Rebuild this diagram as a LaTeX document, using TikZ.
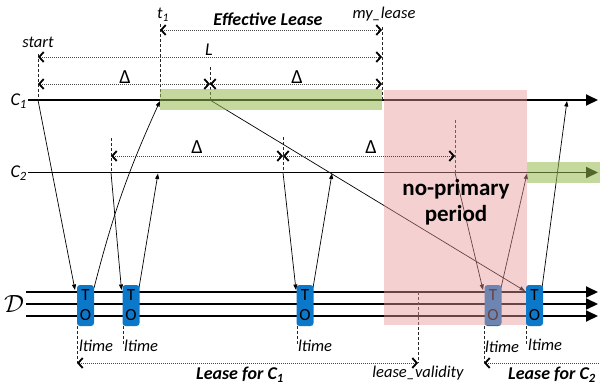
\documentclass[tikz,border=0pt]{standalone}
\usepackage{fontspec}
\setmainfont{Carlito}
\usetikzlibrary{arrows.meta}
\definecolor{toblue}{RGB}{12,120,202}
\definecolor{pinkfill}{RGB}{230,150,150}
\definecolor{greenfill}{RGB}{150,185,80}
\definecolor{dotgray}{RGB}{70,70,70}
\begin{document}
\begin{tikzpicture}[x=1pt,y=-1pt,
  dimtip/.tip={Straight Barb[length=4.5pt,width=10pt,line width=1.8pt,color=black]},
  tline/.style={line width=1.9pt,-{Triangle[length=12pt,width=11pt]}},
  msg/.style={line width=0.7pt,-{Triangle[length=5.5pt,width=4pt]}},
  dimarr/.style={draw=dotgray,line width=0.8pt,dash pattern=on 0.8pt off 1.2pt,dimtip-dimtip},
  dimleft/.style={draw=dotgray,line width=0.8pt,dash pattern=on 0.8pt off 1.2pt,dimtip-},
  guide/.style={draw=black!85,line width=0.8pt,dash pattern=on 3pt off 2pt},
  tobox/.style={draw=none,fill=toblue,rounded corners=3pt,minimum width=17pt,minimum height=41pt,inner sep=0pt,align=center,font=\fontsize{17}{20}\selectfont},
  lab/.style={inner sep=0pt,font=\itshape\fontsize{16.5}{16.5}\selectfont},
  blab/.style={inner sep=0pt,font=\bfseries\itshape\fontsize{18}{18}\selectfont},
  dlab/.style={inner sep=0pt,font=\fontsize{20}{20}\selectfont},
]
\useasboundingbox (0,0) rectangle (600,388);

% timelines
\coordinate (c1s) at (28,100);  \coordinate (c1e) at (598,100);
\coordinate (c2s) at (28,172.5); \coordinate (c2e) at (598,172.5);
\coordinate (d1s) at (26,292); \coordinate (d1e) at (598,292);
\coordinate (d2s) at (26,304); \coordinate (d2e) at (598,304);
\coordinate (d3s) at (26,316); \coordinate (d3e) at (598,316);
\draw[tline] (c1s) -- (c1e);
\draw[tline] (c2s) -- (c2e);
\draw[tline] (d1s) -- (d1e);
\draw[tline] (d2s) -- (d2e);
\draw[tline] (d3s) -- (d3e);

% guide coordinates
\coordinate (gsT) at (38,54);   \coordinate (gsB) at (38,100);
\coordinate (gtT) at (160,24);  \coordinate (gtB) at (160,100);
\coordinate (gmT) at (210,67);  \coordinate (gmB) at (210,100);
\coordinate (glT) at (382,27);  \coordinate (glB) at (382,100);
\coordinate (gaT) at (111,138); \coordinate (gaB) at (111,172.5);
\coordinate (gbT) at (283,137); \coordinate (gbB) at (283,172.5);
\coordinate (gcT) at (455,120); \coordinate (gcB) at (455,172.5);
\coordinate (u1T) at (77,326);  \coordinate (u1B) at (77,363);
\coordinate (u2T) at (123,326); \coordinate (u2B) at (123,345);
\coordinate (u3T) at (297,326); \coordinate (u3B) at (297,345);
\coordinate (uvT) at (418,292); \coordinate (uvB) at (418,363);
\coordinate (u4T) at (484,326); \coordinate (u4B) at (484,363);
\coordinate (u5T) at (526,326); \coordinate (u5B) at (526,345);
\foreach \g in {gs,gt,gm,gl,ga,gb,gc,u1,u2,u3,uv,u4,u5}
  \draw[guide] (\g T) -- (\g B);

% messages
\coordinate (m1a) at (38,100);  \coordinate (m1b) at (75,290);
\coordinate (m2a) at (94,288);  \coordinate (m2b) at (160,101);
\coordinate (m3a) at (111,172.5); \coordinate (m3b) at (121.5,290);
\coordinate (m4a) at (139,288); \coordinate (m4b) at (158,173.5);
\coordinate (m5a) at (210,100); \coordinate (m5b) at (525,291);
\coordinate (m6a) at (283,172.5); \coordinate (m6b) at (296,290);
\coordinate (m7a) at (313,288); \coordinate (m7b) at (332,173.5);
\coordinate (m8a) at (455,172.5); \coordinate (m8b) at (483,290);
\coordinate (m9a) at (501,288); \coordinate (m9b) at (527,173.5);
\coordinate (m10a) at (542,288); \coordinate (m10b) at (567,101);
\draw[msg] (m1a) -- (m1b);
\draw[msg] (m2a) to[bend left=5] (m2b);
\draw[msg] (m3a) -- (m3b);
\draw[msg] (m4a) -- (m4b);
\draw[msg] (m5a) -- (m5b);
\draw[msg] (m6a) -- (m6b);
\draw[msg] (m7a) -- (m7b);
\draw[msg] (m8a) -- (m8b);
\draw[msg] (m9a) -- (m9b);
\draw[msg] (m10a) -- (m10b);

% TO boxes
\node[tobox] (to1) at (85.5,305.5) {T\\O};
\node[tobox] (to2) at (131,305.5) {T\\O};
\node[tobox] (to3) at (305,305.5) {T\\O};
\node[tobox] (to4) at (493,305.5) {T\\O};

% green lease bars
\fill[greenfill,opacity=0.55] (160,89) rectangle (382,110);
\fill[greenfill,opacity=0.55] (527,162) rectangle (600,183);

% no-primary period
\fill[pinkfill,opacity=0.45] (384,90) rectangle (527,325);
\node[tobox] (to5) at (534.5,305.5) {T\\O};
\node[inner sep=0pt,font=\bfseries\fontsize{23}{26}\selectfont,align=center] (lnp) at (456,202) {no-primary\\period};

% dimension arrows
\coordinate (e1) at (160,30);  \coordinate (e2) at (382,30);
\coordinate (l1) at (38,57);   \coordinate (l2) at (382,57);
\coordinate (a1) at (38,84);   \coordinate (a2) at (210,84); \coordinate (a3) at (382,84);
\coordinate (b1) at (111,156); \coordinate (b2) at (283,156); \coordinate (b3) at (455,156);
\coordinate (q1) at (77,363);  \coordinate (q2) at (418,363);
\coordinate (r1) at (484,363); \coordinate (r2) at (602,363);
\draw[dimarr] (e1) -- (e2);
\draw[dimarr] (l1) -- (l2);
\draw[dimarr] (a1) -- (a2);
\draw[dimarr] (a2) -- (a3);
\draw[dimarr] (b1) -- (b2);
\draw[dimarr] (b2) -- (b3);
\draw[dimarr] (q1) -- (q2);
\draw[dimleft] (r1) -- (r2);

% labels
\node[lab] (lstart) at (38,42) {start};
\node[lab] (lt1) at (163,15) {t\textsubscript{1}};
\node[blab] (leff) at (268,19) {Effective Lease};
\node[lab] (lmy) at (384,14) {my\_lease};
\node[lab,font=\itshape\fontsize{18}{18}\selectfont] (lL) at (209,50) {L};
\node[dlab] (d1) at (125,77) {Δ};
\node[dlab] (d2) at (297,77) {Δ};
\node[dlab] (d3) at (197,147) {Δ};
\node[dlab] (d4) at (371,147) {Δ};
\node[lab,anchor=east,font=\itshape\fontsize{18}{18}\selectfont] (lc1) at (27,101) {C\textsubscript{1}};
\node[lab,anchor=east,font=\itshape\fontsize{18}{18}\selectfont] (lc2) at (27,173) {C\textsubscript{2}};
\node[inner sep=0pt] (lD) at (14,304) {\fontsize{30}{30}\selectfont$\mathcal{D}$};
\node[lab,anchor=west] (lt-a) at (79,346) {ltime};
\node[lab,anchor=west] (lt-b) at (124,346) {ltime};
\node[lab,anchor=west] (lt-c) at (298,346) {ltime};
\node[lab,anchor=west] (lt-d) at (485,347) {ltime};
\node[lab,anchor=west] (lt-e) at (528,345) {ltime};
\node[lab] (llv) at (418,373) {lease\_validity};
\node[blab] (llc1) at (240,375) {Lease for C\textsubscript{1}};
\node[blab,anchor=west] (llc2) at (508,375) {Lease for C\textsubscript{2}};
\end{tikzpicture}
\end{document}
